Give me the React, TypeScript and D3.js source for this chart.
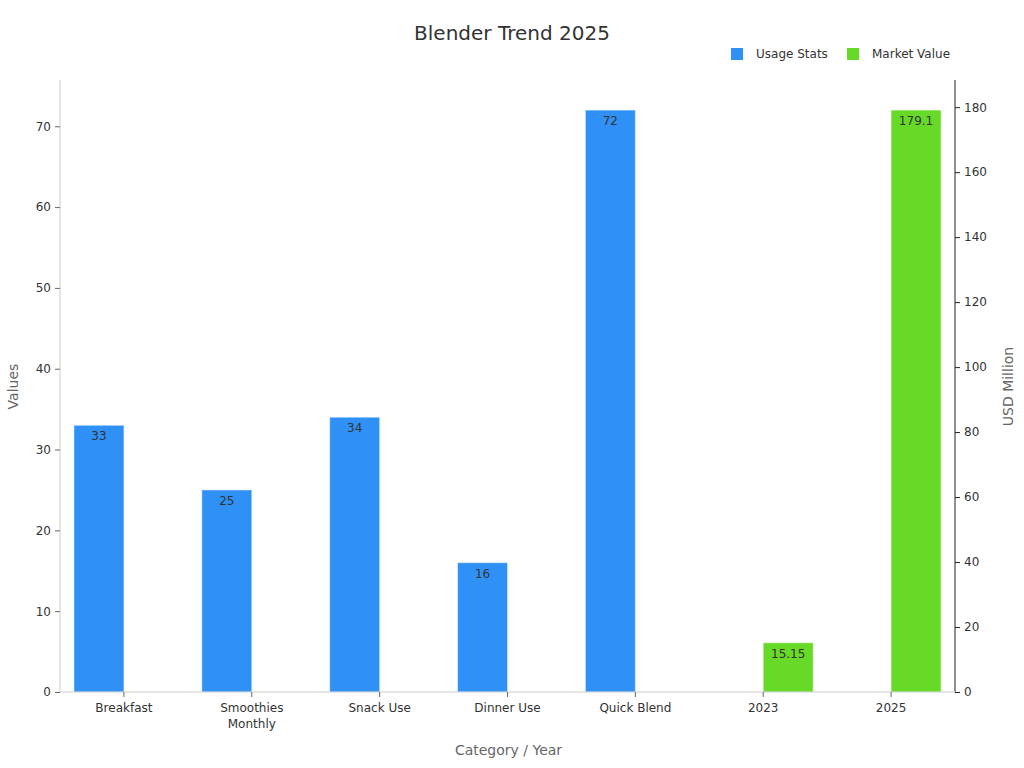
import { useEffect, useRef } from 'react';
import * as d3 from 'd3';

const categories = ['Breakfast', 'Smoothies\nMonthly', 'Snack Use', 'Dinner Use', 'Quick Blend', '2023', '2025'];
const usageStats: (number | null)[] = [33, 25, 34, 16, 72, null, null];
const marketValue: (number | null)[] = [null, null, null, null, null, 15.15, 179.1];
const seriesNames = ['Usage Stats', 'Market Value'];
const seriesColors = ['#2F91F6', '#66DA26'];
const leftTicks = [0, 10, 20, 30, 40, 50, 60, 70];
const rightTicks = [0, 20, 40, 60, 80, 100, 120, 140, 160, 180];

const WIDTH = 1024;
const HEIGHT = 768;
const FONT = 'DejaVu Sans, sans-serif';

export default function App() {
  const svgRef = useRef<SVGSVGElement>(null);

  useEffect(() => {
    if (!svgRef.current) return;
    const svg = d3.select(svgRef.current);
    svg.selectAll('*').remove();

    const margin = { top: 81, right: 69, bottom: 76, left: 60 };
    const innerW = WIDTH - margin.left - margin.right;
    const innerH = HEIGHT - margin.top - margin.bottom;

    const x0 = d3.scaleBand<string>().domain(categories).range([0, innerW]).padding(0);
    const x1 = d3
      .scaleBand<string>()
      .domain(seriesNames)
      .range([0, x0.bandwidth()])
      .paddingInner(0)
      .paddingOuter(0.28);

    const leftMax = d3.max(usageStats, (d) => d ?? 0)! * 1.05;
    const rightMax = d3.max(marketValue, (d) => d ?? 0)! * 1.05;
    const yL = d3.scaleLinear().domain([0, leftMax]).range([innerH, 0]);
    const yR = d3.scaleLinear().domain([0, rightMax]).range([innerH, 0]);

    svg
      .append('text')
      .attr('x', WIDTH / 2)
      .attr('y', 40)
      .attr('text-anchor', 'middle')
      .attr('font-size', '20px')
      .attr('fill', '#333')
      .text('Blender Trend 2025');

    // Legend
    const legend = svg.append('g').attr('transform', 'translate(731, 48)');
    const legendX = [0, 116];
    seriesNames.forEach((name, i) => {
      const item = legend.append('g').attr('transform', `translate(${legendX[i]}, 0)`);
      item.append('rect').attr('width', 12).attr('height', 12).attr('fill', seriesColors[i]);
      item
        .append('text')
        .attr('x', 25)
        .attr('y', 10)
        .attr('font-size', '12px')
        .attr('fill', '#333')
        .text(name);
    });

    const g = svg.append('g').attr('transform', `translate(${margin.left}, ${margin.top})`);

    // Left axis
    const leftAxis = g.append('g').call(d3.axisLeft(yL).tickValues(leftTicks).tickSize(5).tickPadding(4));
    leftAxis.select('.domain').attr('stroke', '#ccc').attr('d', `M0,-1V${innerH}`);
    leftAxis.selectAll('.tick line').attr('stroke', '#666');
    leftAxis.selectAll('.tick text').attr('font-size', '12px').attr('fill', '#333').attr('font-family', FONT);

    // Right axis
    const rightAxis = g
      .append('g')
      .attr('transform', `translate(${innerW}, 0)`)
      .call(d3.axisRight(yR).tickValues(rightTicks).tickSize(5).tickPadding(4));
    rightAxis.select('.domain').attr('stroke', '#222').attr('d', `M0,-1V${innerH}`);
    rightAxis.selectAll('.tick line').attr('stroke', '#222');
    rightAxis.selectAll('.tick text').attr('font-size', '12px').attr('fill', '#333').attr('font-family', FONT);

    // Bars
    const series = [usageStats, marketValue];
    const scales = [yL, yR];
    series.forEach((values, si) => {
      const y = scales[si];
      categories.forEach((cat, ci) => {
        const v = values[ci];
        if (v == null) return;
        const bx = x0(cat)! + x1(seriesNames[si])!;
        const bw = x1.bandwidth();
        g.append('rect')
          .attr('x', bx)
          .attr('y', y(v))
          .attr('width', bw)
          .attr('height', innerH - y(v))
          .attr('fill', seriesColors[si])
          .attr('stroke', 'rgba(255,255,255,0.45)')
          .attr('stroke-width', 1);
        g.append('text')
          .attr('x', bx + bw / 2)
          .attr('y', y(v) + 15)
          .attr('text-anchor', 'middle')
          .attr('font-size', '12px')
          .attr('fill', '#333')
          .text(String(v));
      });
    });

    // Bottom axis
    const bottomAxis = g
      .append('g')
      .attr('transform', `translate(0, ${innerH})`)
      .call(d3.axisBottom(x0).tickSize(5).tickPadding(6).tickFormat(() => ''));
    bottomAxis.select('.domain').attr('stroke', '#ccc').attr('d', `M0,0H${innerW}`);
    bottomAxis.selectAll('.tick line').attr('stroke', '#666');
    bottomAxis.selectAll<SVGTextElement, string>('.tick text').each(function (d) {
      const t = d3.select(this);
      t.attr('font-size', '12px').attr('fill', '#333').attr('font-family', FONT);
      d.split('\n').forEach((line, i) => {
        t.append('tspan').attr('x', 0).attr('dy', i === 0 ? '0.71em' : '1.35em').text(line);
      });
    });

    // Axis titles
    svg
      .append('text')
      .attr('transform', `translate(18, ${margin.top + innerH / 2}) rotate(-90)`)
      .attr('text-anchor', 'middle')
      .attr('font-size', '14px')
      .attr('fill', '#666')
      .text('Values');
    svg
      .append('text')
      .attr('transform', `translate(1013, ${margin.top + innerH / 2}) rotate(-90)`)
      .attr('text-anchor', 'middle')
      .attr('font-size', '14px')
      .attr('fill', '#666')
      .text('USD Million');
    svg
      .append('text')
      .attr('x', margin.left + innerW / 2 + 1)
      .attr('y', 755)
      .attr('text-anchor', 'middle')
      .attr('font-size', '14px')
      .attr('fill', '#666')
      .text('Category / Year');
  }, []);

  return (
    <div style={{ position: 'absolute', left: 0, top: 0, background: '#fff' }}>
      <svg ref={svgRef} width={WIDTH} height={HEIGHT} fontFamily={FONT} style={{ display: 'block' }} />
    </div>
  );
}
